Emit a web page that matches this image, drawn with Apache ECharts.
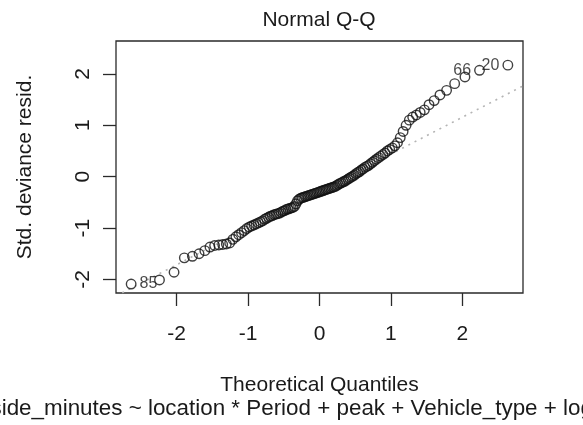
<!DOCTYPE html>
<html><head><meta charset="utf-8">
<script src="https://cdn.jsdelivr.net/npm/echarts@6/dist/echarts.min.js"></script>
<style>html,body{margin:0;padding:0;background:#fff}#c{width:583px;height:425px}</style>
</head><body><div id="c"></div>
<script>
// Theoretical quantiles (n = 120)
const theoreticalQuantiles = [
-2.638,-2.241,-2.037,-1.893,-1.780,-1.687,-1.606,-1.534,-1.469,-1.410,
-1.356,-1.305,-1.258,-1.213,-1.171,-1.131,-1.092,-1.055,-1.019,-0.984,
-0.951,-0.918,-0.887,-0.856,-0.827,-0.798,-0.769,-0.742,-0.714,-0.688,
-0.662,-0.636,-0.610,-0.585,-0.561,-0.536,-0.512,-0.489,-0.466,-0.442,
-0.419,-0.397,-0.374,-0.352,-0.330,-0.308,-0.286,-0.264,-0.243,-0.221,
-0.200,-0.179,-0.157,-0.136,-0.115,-0.094,-0.073,-0.052,-0.031,-0.010,
0.010,0.031,0.052,0.073,0.094,0.115,0.136,0.157,0.179,0.200,
0.221,0.243,0.264,0.286,0.308,0.330,0.352,0.374,0.397,0.419,
0.442,0.466,0.489,0.512,0.536,0.561,0.585,0.610,0.636,0.662,
0.688,0.714,0.742,0.769,0.798,0.827,0.856,0.887,0.918,0.951,
0.984,1.019,1.055,1.092,1.131,1.171,1.213,1.258,1.305,1.356,
1.410,1.469,1.534,1.606,1.687,1.780,1.893,2.037,2.241,2.638
];
// Std. deviance residuals (sorted)
const stdDevianceResid = [
-2.09,-2.01,-1.86,-1.58,-1.55,-1.50,-1.44,-1.37,-1.34,-1.33,
-1.32,-1.31,-1.29,-1.22,-1.17,-1.13,-1.09,-1.05,-1.01,-0.98,
-0.96,-0.94,-0.92,-0.90,-0.88,-0.86,-0.83,-0.81,-0.79,-0.77,
-0.76,-0.74,-0.73,-0.72,-0.71,-0.69,-0.67,-0.66,-0.64,-0.63,
-0.62,-0.61,-0.60,-0.58,-0.53,-0.47,-0.44,-0.42,-0.41,-0.40,
-0.39,-0.38,-0.37,-0.36,-0.35,-0.34,-0.33,-0.32,-0.31,-0.30,
-0.29,-0.28,-0.27,-0.26,-0.25,-0.24,-0.23,-0.22,-0.21,-0.20,
-0.19,-0.17,-0.15,-0.13,-0.12,-0.10,-0.09,-0.07,-0.05,-0.03,
-0.01,0.01,0.03,0.06,0.08,0.10,0.13,0.15,0.18,0.20,
0.22,0.25,0.28,0.31,0.34,0.37,0.40,0.43,0.46,0.50,
0.53,0.56,0.60,0.66,0.76,0.88,1.00,1.10,1.16,1.20,
1.25,1.30,1.40,1.48,1.59,1.68,1.81,1.94,2.07,2.17
];
const xTicks = [-2,-1,0,1,2];
const yTicks = [-2,-1,0,1,2];
const idPoints = [
  {index:0,   label:'85', position:'right'},
  {index:118, label:'66', position:'left'},
  {index:119, label:'20', position:'left'}
];
const titleText = 'Normal Q-Q';
const xName = 'Theoretical Quantiles';
const yName = 'Std. deviance resid.';
const subText = 'side_minutes ~ location * Period + peak + Vehicle_type + log';

const X_MIN = -2.85, X_MAX = 2.85, Y_MIN = -2.264, Y_MAX = 2.64;
const FONT = '"Liberation Sans", Arial, Helvetica, sans-serif';
const INK = '#1a1a1a';

// qqline (R): line through the 1st and 3rd quartiles
function quantile7(arr, p) {
  const s = arr.slice().sort((a,b)=>a-b);
  const h = (s.length - 1) * p, lo = Math.floor(h);
  return s[lo] + (h - lo) * ((s[Math.min(lo+1, s.length-1)]) - s[lo]);
}
const zq = 0.6744898;
const yq1 = quantile7(stdDevianceResid, 0.25), yq3 = quantile7(stdDevianceResid, 0.75);
const slope = (yq3 - yq1) / (2*zq);
const intercept = yq1 + slope * zq;
const qqLine = [[X_MIN, intercept + slope*X_MIN], [X_MAX, intercept + slope*X_MAX]];

const pts = theoreticalQuantiles.map((x,i)=>({value:[x, stdDevianceResid[i]]}));
idPoints.forEach(p=>{
  pts[p.index].label = {show:true, formatter:p.label, position:p.position, distance:3,
    fontSize:16, color:INK, fontFamily:FONT};
});

const chart = echarts.init(document.getElementById('c'), null, {renderer:'canvas'});
chart.setOption({
  animation:false,
  backgroundColor:'#fff',
  grid:{left:116, right:60, top:41, bottom:132, show:true, borderColor:'#2a2a2a', borderWidth:1.3, backgroundColor:'transparent'},
  xAxis:{type:'value', min:X_MIN, max:X_MAX,
    name:xName, nameLocation:'middle', nameGap:82,
    nameTextStyle:{fontSize:21, color:INK, fontFamily:FONT},
    axisLine:{show:false, onZero:false}, splitLine:{show:false},
    axisTick:{show:true, customValues:xTicks, length:13, lineStyle:{color:'#2a2a2a', width:1.3}},
    axisLabel:{customValues:xTicks, fontSize:21, color:INK, fontFamily:FONT, margin:31}
  },
  yAxis:{type:'value', min:Y_MIN, max:Y_MAX,
    name:yName, nameLocation:'middle', nameGap:80, nameRotate:90,
    nameTextStyle:{fontSize:21, color:INK, fontFamily:FONT},
    axisLine:{show:false, onZero:false}, splitLine:{show:false},
    axisTick:{show:true, customValues:yTicks, length:13, lineStyle:{color:'#2a2a2a', width:1.3}},
    axisLabel:{customValues:yTicks, rotate:90, fontSize:21, color:INK, fontFamily:FONT, margin:22}
  },
  series:[
    {type:'line', data:qqLine, showSymbol:false, symbol:'none', silent:true, z:1,
     lineStyle:{color:'#b4b4b4', width:1.6, type:[2,5]}},
    {type:'scatter', data:pts, symbol:'circle', symbolSize:9.5, z:2,
     itemStyle:{color:'rgba(0,0,0,0)', borderColor:'#111', borderWidth:1.4}}
  ],
  graphic:[
    {type:'text', x:319, y:20, style:{text:titleText, fontSize:21, fontFamily:FONT, fill:INK, textAlign:'center', textVerticalAlign:'middle'}},
    {type:'text', x:-9.5, y:409, style:{text:subText, fontSize:22.4, fontFamily:FONT, fill:INK, textAlign:'left', textVerticalAlign:'middle'}}
  ]
});
</script>
</body></html>
